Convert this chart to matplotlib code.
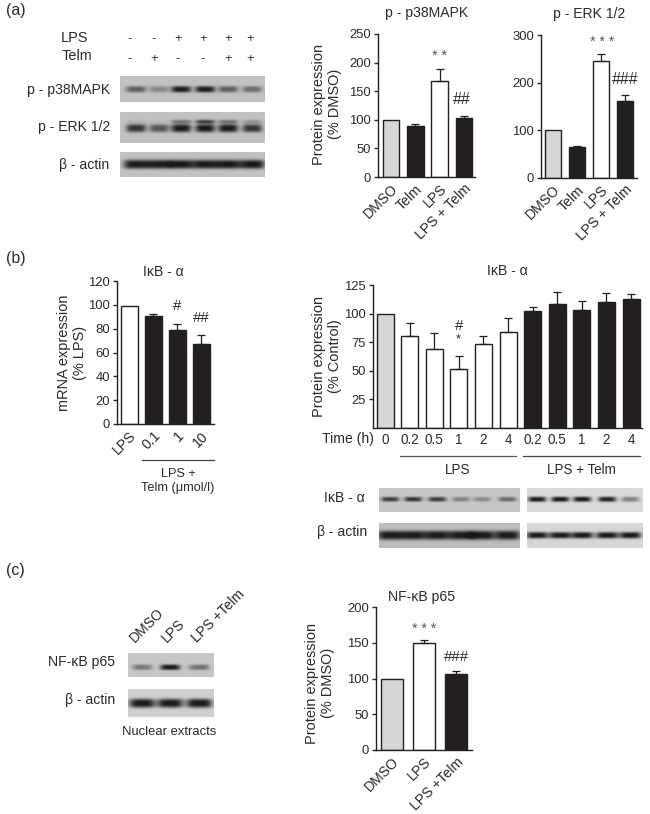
import numpy as np
import matplotlib; matplotlib.use("Agg")
import matplotlib.pyplot as plt

plt.rcParams["font.family"] = ["Liberation Sans", "DejaVu Sans"]
W, H = 650, 814
INK = "#2b2b2b"; GREY = "#d5d7d7"; BLACK = "#231f20"; WHITE = "#ffffff"

# ------------------------------------------------------------ bar data
groups_a = ["DMSO", "Telm", "LPS", "LPS + Telm"]
p38_vals = [100, 89, 168, 103]
p38_errs = [0, 3, 20, 4]
erk_vals = [100, 65, 245, 161]
erk_errs = [0, 3, 16, 14]
colors_a = [GREY, BLACK, WHITE, BLACK]

mrna_labels = ["LPS", "0.1", "1", "10"]
mrna_vals = [99, 91, 79, 67]
mrna_errs = [0, 1, 4.5, 8]
colors_mrna = [WHITE, BLACK, BLACK, BLACK]

time_labels = ["0", "0.2", "0.5", "1", "2", "4", "0.2", "0.5", "1", "2", "4"]
time_vals = [100, 80, 69, 52, 73, 84, 102, 108, 103, 110, 113]
time_errs = [0, 12, 14, 11, 7, 12, 4, 11, 8, 8, 4]
colors_time = [GREY] + [WHITE] * 5 + [BLACK] * 5

groups_c = ["DMSO", "LPS", "LPS +Telm"]
p65_vals = [100, 149, 106]
p65_errs = [0, 5.5, 4]
colors_c = [GREY, WHITE, BLACK]

# ------------------------------------------------------------ blot band strengths (0-1 per lane)
lanes_a = [136, 159, 181, 205, 228, 252]
band_p38 = [0.6, 0.35, 1.0, 1.0, 0.6, 0.5]
band_erk = [0.85, 0.65, 1.0, 1.0, 1.0, 0.85]
band_erk_up = [0.1, 0.05, 0.5, 0.8, 0.5, 0.3]
band_actin_a = [1.0, 1.0, 1.0, 1.0, 1.0, 1.0]
lanes_b1 = [390, 413, 437, 461, 482, 507]
lanes_b2 = [537, 560, 582, 607, 630]
band_ikb1 = [0.8, 0.85, 0.8, 0.4, 0.35, 0.55]
band_ikb2 = [1.0, 1.0, 1.0, 0.95, 0.45]
band_act1 = [1.0, 1.0, 1.0, 1.0, 1.0, 1.0]
band_act2 = [1.0, 1.0, 1.0, 1.0, 1.0]
lanes_c = [142, 170, 199]
band_p65 = [0.45, 1.0, 0.5]
band_actin_c = [1.0, 1.0, 1.0]

fig = plt.figure(figsize=(W / 100, H / 100), dpi=100, facecolor="white")
px = fig.add_axes([0, 0, 1, 1], zorder=5)
px.set_xlim(0, W); px.set_ylim(H, 0); px.axis("off"); px.patch.set_alpha(0)


def fs(p):  # pixel height to points
    return p * 0.72


def label(x, y, s, size=12, ha="center", va="center", rot=0, color=INK, **kw):
    px.text(x, y, s, fontsize=fs(size), ha=ha, va=va, rotation=rot, color=color,
            rotation_mode="anchor", **kw)


def bar_panel(x0, x1, ybot, ytop, ymax, ticks, first, step, width, vals, errs, colors, labels, rot=45):
    ax = fig.add_axes([x0 / W, 1 - ybot / H, (x1 - x0) / W, (ybot - ytop) / H])
    ax.set_xlim((x0 - first) / step, (x1 - first) / step)
    ax.set_ylim(0, ymax)
    xs = np.arange(len(vals))
    ax.bar(xs, vals, width=width / step, color=colors, edgecolor=BLACK, linewidth=1.0)
    for x, v, e in zip(xs, vals, errs):
        if e:
            ax.errorbar(x, v, yerr=[[0], [e]], color=BLACK, elinewidth=0.9, capsize=3.2, capthick=0.9)
    for s in ("top", "right"):
        ax.spines[s].set_visible(False)
    for s in ("left", "bottom"):
        ax.spines[s].set_linewidth(1.0); ax.spines[s].set_color(BLACK)
    ax.set_yticks(ticks)
    ax.tick_params(axis="y", length=3, width=1, labelsize=fs(13), colors=INK, pad=2)
    ax.set_xticks(xs)
    if rot:
        ax.set_xticklabels(labels, rotation=rot, ha="right", rotation_mode="anchor", fontsize=fs(14), color=INK)
    else:
        ax.set_xticklabels(labels, fontsize=fs(13.5), color=INK)
    ax.tick_params(axis="x", length=0, pad=3.5)
    ax.patch.set_alpha(0)
    return ax


def blot(x0, x1, y0, y1, lanes, strengths, yc, thick, bw, bg=0.76, upper=None):
    """Blurred gel strip drawn as a small greyscale image."""
    xx, yy = np.meshgrid(np.arange(x0, x1, 0.5), np.arange(y0, y1, 0.5))
    dark = np.zeros_like(xx)
    for lane, s in zip(lanes, strengths):
        dark += s * np.exp(-((xx - lane) / bw) ** 4 - np.abs((yy - yc) / thick) ** 3)
    if upper is not None:
        for lane, s in zip(lanes, upper):
            dark += s * np.exp(-((xx - lane) / bw) ** 4 - ((yy - yc + 6.5) / 2.0) ** 2)
    img = bg * (1 - np.clip(dark, 0, 1)) + 0.1 * np.clip(dark, 0, 1)
    px.imshow(img, extent=(x0, x1, y1, y0), cmap="gray", vmin=0, vmax=1, aspect="auto",
              interpolation="bilinear")


# ------------------------------------------------------------ panel (a)
label(6, 10, "(a)", 16, ha="left")
bar_panel(378, 475, 177, 34, 250, [0, 50, 100, 150, 200, 250], 391, 24.3, 16.5, p38_vals, p38_errs, colors_a, groups_a)
bar_panel(541, 637, 178, 35, 300, [0, 100, 200, 300], 553, 24, 16.5, erk_vals, erk_errs, colors_a, groups_a)
label(427, 13, "p - p38MAPK", 14)
label(589, 14, "p - ERK 1/2", 14)
label(327, 104, "Protein expression\n(% DMSO)", 14.5, rot=90, linespacing=1.2)
label(439, 56, "* *", 14, color="#555555")
label(462, 100, "##", 16)
label(602, 42, "* * *", 14, color="#555555")
label(625, 80, "###", 16)

label(61, 38, "LPS", 14.5, ha="left")
label(62, 56, "Telm", 14.5, ha="left")
for x, a, b in zip([130, 154, 178, 203, 228, 250], "--++++", "-+--++"):
    label(x, 39, a, 13)
    label(x, 59, b, 13)
blot(120, 265, 76, 102, lanes_a, band_p38, 89, 3.2, 10)
blot(120, 265, 112, 143, lanes_a, band_erk, 128, 4.0, 10, upper=band_erk_up)
blot(120, 265, 152, 177, lanes_a, band_actin_a, 164, 4.5, 12.5)
label(110, 90, "p - p38MAPK", 14, ha="right")
label(110, 127, "p - ERK 1/2", 14, ha="right")
label(109, 165, "β - actin", 14, ha="right")

# ------------------------------------------------------------ panel (b)
label(6, 258, "(b)", 16, ha="left")
bar_panel(117, 214, 424, 281, 120, [0, 20, 40, 60, 80, 100, 120], 129, 24, 17, mrna_vals, mrna_errs, colors_mrna, mrna_labels)
label(163, 272, "IκB - α", 14)
label(72, 353, "mRNA expression\n(% LPS)", 14.5, rot=90, linespacing=1.2)
label(177, 306, "#", 15)
label(201, 318, "##", 15)
px.plot([142, 214], [460, 460], color="#444444", lw=0.9)
label(178, 474, "LPS +", 12.7)
label(178, 488, "Telm (μmol/l)", 12.7)

bar_panel(373, 642, 428, 285, 125, [25, 50, 75, 100, 125], 385, 24.6, 17, time_vals, time_errs, colors_time, time_labels, rot=0)
label(507, 271, "IκB - α", 14)
label(327, 356, "Protein expression\n(% Control)", 14.5, rot=90, linespacing=1.1)
label(348, 439, "Time (h)", 14)
label(459, 326, "#", 15)
label(458, 339, "*", 13)
px.plot([400, 516], [456, 456], color="#555555", lw=0.9)
px.plot([523, 640], [456, 456], color="#444444", lw=0.9)
label(458, 470, "LPS", 13.5)
label(581, 470, "LPS + Telm", 13.5)
blot(379, 520, 488, 512, lanes_b1, band_ikb1, 499, 2.4, 9, bg=0.78)
blot(527, 643, 488, 512, lanes_b2, band_ikb2, 499, 2.6, 9, bg=0.85)
blot(379, 520, 523, 548, lanes_b1, band_act1, 535, 4.5, 12.5, bg=0.74)
blot(527, 643, 523, 548, lanes_b2, band_act2, 535, 3.2, 11, bg=0.84)
label(344, 498, "IκB - α", 14)
label(342, 532, "β - actin", 14)

# ------------------------------------------------------------ panel (c)
label(6, 570, "(c)", 16, ha="left")
for x, s in zip([137, 169, 199], groups_c):
    label(x, 645, s, 14, ha="left", va="bottom", rot=45)
blot(128, 214, 653, 677, lanes_c, band_p65, 667, 2.8, 10, bg=0.78)
blot(128, 214, 689, 717, lanes_c, band_actin_c, 703, 4.5, 13, bg=0.82)
label(115, 662, "NF-κB p65", 14, ha="right")
label(115, 700, "β - actin", 14, ha="right")
label(169, 732, "Nuclear extracts", 13)

bar_panel(376, 472, 750, 607, 200, [0, 50, 100, 150, 200], 392, 32, 22, p65_vals, p65_errs, colors_c, groups_c)
label(422, 597, "NF-κB p65", 14)
label(320, 683, "Protein expression\n(% DMSO)", 14.5, rot=90, linespacing=1.2)
label(424, 629, "* * *", 14, color="#555555")
label(456, 657, "###", 15)

px.set_xlim(0, W); px.set_ylim(H, 0)
fig.savefig("out.png", dpi=100, facecolor="white")
